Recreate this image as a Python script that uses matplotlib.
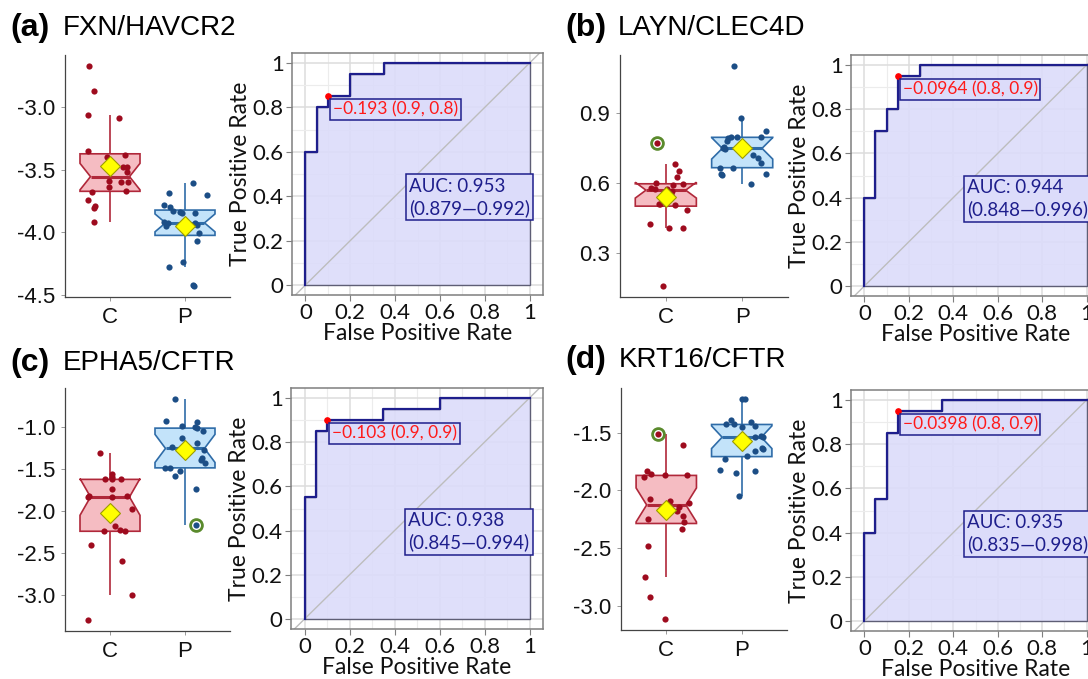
import matplotlib
matplotlib.use("Agg")
import matplotlib.pyplot as plt
import numpy as np
from matplotlib.patches import Polygon

plt.rcParams['axes.unicode_minus'] = False

W, H = 1088, 679

# ---------------- data ----------------
letters = ["(a)", "(b)", "(c)", "(d)"]
titles = ["FXN/HAVCR2", "LAYN/CLEC4D", "EPHA5/CFTR", "KRT16/CFTR"]
groups = ["C", "P"]

a_C = [-2.67, -2.87, -3.06, -3.09, -3.35, -3.40, -3.38, -3.48, -3.48, -3.52,
       -3.59, -3.60, -3.60, -3.64, -3.67, -3.68, -3.74, -3.79, -3.81, -3.92]
a_C_jit = [-0.28, -0.22, -0.29, 0.12, -0.30, -0.04, 0.20, 0.17, 0.23, 0.22,
           -0.02, 0.14, 0.24, -0.02, 0.21, -0.24, -0.30, -0.20, -0.22, -0.22]
a_P = [-3.61, -3.69, -3.70, -3.78, -3.80, -3.83, -3.84, -3.85, -3.85, -3.92,
       -3.93, -3.93, -3.94, -3.95, -4.01, -4.07, -4.24, -4.28, -4.42, -4.43]
a_P_jit = [0.11, -0.22, 0.29, -0.28, -0.20, -0.16, -0.07, -0.04, 0.13, -0.28,
           -0.23, 0.13, 0.16, -0.26, 0.19, 0.16, -0.03, -0.21, 0.10, 0.12]

b_C = [0.771, 0.683, 0.651, 0.626, 0.600, 0.596, 0.590, 0.580, 0.576, 0.573,
       0.566, 0.551, 0.511, 0.509, 0.506, 0.485, 0.424, 0.407, 0.406, 0.157]
b_C_jit = [-0.12, 0.12, 0.17, 0.14, -0.13, 0.22, 0.10, -0.20, -0.14, 0.01,
           0.08, 0.07, -0.09, -0.07, 0.12, 0.28, -0.21, 0.23, 0.04, -0.04]
b_P = [1.104, 0.880, 0.823, 0.800, 0.797, 0.797, 0.793, 0.783, 0.754, 0.752,
       0.747, 0.723, 0.709, 0.687, 0.667, 0.664, 0.640, 0.637, 0.633, 0.594]
b_P_jit = [-0.11, -0.02, 0.31, 0.24, -0.14, -0.07, -0.18, -0.20, -0.24, -0.25,
           -0.23, 0.14, 0.21, 0.24, -0.12, -0.29, 0.31, -0.28, -0.27, 0.12]

c_C = [-1.30, -1.56, -1.59, -1.62, -1.62, -1.62, -1.73, -1.82, -1.83, -1.83,
       -1.82, -1.97, -2.18, -2.24, -2.23, -2.24, -2.41, -2.59, -3.00, -3.30]
c_C_jit = [-0.14, 0.02, 0.03, -0.07, 0.02, 0.14, 0.03, -0.28, -0.29, 0.03,
           0.22, 0.29, 0.06, -0.08, 0.13, 0.20, -0.26, 0.16, 0.29, -0.29]
c_P = [-2.16, -0.66, -0.92, -0.93, -0.98, -1.00, -1.01, -1.04, -1.12, -1.19,
       -1.23, -1.27, -1.36, -1.39, -1.42, -1.48, -1.49, -1.52, -1.58, -1.74]
c_P_jit = [0.14, -0.14, -0.26, 0.16, -0.04, 0.13, 0.16, 0.24, -0.04, 0.16,
           -0.18, 0.25, 0.22, 0.21, 0.27, -0.20, -0.27, -0.07, -0.13, 0.15]

d_C = [-1.51, -1.61, -1.83, -1.86, -1.88, -1.87, -1.87, -2.07, -2.09, -2.11,
       -2.14, -2.18, -2.22, -2.27, -2.25, -2.33, -2.48, -2.75, -2.92, -3.11]
d_C_jit = [-0.11, 0.22, -0.26, -0.20, -0.29, -0.02, 0.28, -0.22, 0.05, 0.30,
           0.17, 0.14, 0.22, 0.23, -0.24, 0.21, -0.24, -0.28, -0.21, -0.02]
d_P = [-1.21, -1.21, -1.39, -1.43, -1.43, -1.41, -1.44, -1.45, -1.54, -1.53,
       -1.54, -1.63, -1.64, -1.66, -1.70, -1.73, -1.82, -1.83, -1.85, -2.05]
d_P_jit = [0.00, 0.04, -0.14, -0.21, -0.10, 0.12, 0.18, 0.01, 0.18, 0.26,
           0.28, 0.27, 0.28, 0.18, 0.07, -0.22, -0.29, 0.18, -0.07, -0.03]

# highlighted (green ring) sample: (group index, point index) or None
a_hl = None
b_hl = (0, 0)
c_hl = (1, 0)
d_hl = (0, 0)

a_yticks = [-4.5, -4.0, -3.5, -3.0]
b_yticks = [0.3, 0.6, 0.9]
c_yticks = [-3.0, -2.5, -2.0, -1.5, -1.0]
d_yticks = [-3.0, -2.5, -2.0, -1.5]

# ROC curves (FPR, TPR)
a_fpr = [0, 0, 0.05, 0.05, 0.10, 0.10, 0.20, 0.20, 0.35, 0.35, 1]
a_tpr = [0, 0.60, 0.60, 0.80, 0.80, 0.85, 0.85, 0.95, 0.95, 1.0, 1.0]
b_fpr = [0, 0, 0.05, 0.05, 0.10, 0.10, 0.15, 0.15, 0.25, 0.25, 1]
b_tpr = [0, 0.40, 0.40, 0.70, 0.70, 0.80, 0.80, 0.95, 0.95, 1.0, 1.0]
c_fpr = [0, 0, 0.05, 0.05, 0.10, 0.10, 0.35, 0.35, 0.60, 0.60, 1]
c_tpr = [0, 0.55, 0.55, 0.85, 0.85, 0.90, 0.90, 0.95, 0.95, 1.0, 1.0]
d_fpr = [0, 0, 0.05, 0.05, 0.10, 0.10, 0.15, 0.15, 0.35, 0.35, 1]
d_tpr = [0, 0.40, 0.40, 0.55, 0.55, 0.85, 0.85, 0.95, 0.95, 1.0, 1.0]

best_pt = [(0.10, 0.85), (0.15, 0.95), (0.10, 0.90), (0.15, 0.95)]
best_lbl = ["\u22120.193 (0.9, 0.8)", "\u22120.0964 (0.8, 0.9)",
            "\u22120.103 (0.9, 0.9)", "\u22120.0398 (0.8, 0.9)"]
auc_val = ["0.953", "0.944", "0.938", "0.935"]
auc_ci = [("0.879", "0.992"), ("0.848", "0.996"), ("0.845", "0.994"), ("0.835", "0.998")]

# ---------------- styles ----------------
C_FILL, C_EDGE, C_PT = "#F5BCC2", "#B0283A", "#9E0B1E"
P_FILL, P_EDGE, P_PT = "#C3E3FA", "#2F6CA8", "#1C4E86"
NAVY = "#1E1E8C"
ROC_FILL = "#DCDCFA"
BOXFONT = "Liberation Sans"
ROCFONT = "Lato"

fig = plt.figure(figsize=(W / 100, H / 100), dpi=100)


def px_axes(left, top, right, bottom):
    return fig.add_axes([left / W, 1 - bottom / H, (right - left) / W, (bottom - top) / H])


def box_panel(ax, data, jits, hl, yticks):
    fills = [(C_FILL, C_EDGE, C_PT), (P_FILL, P_EDGE, P_PT)]
    allv = np.concatenate([np.asarray(d) for d in data])
    lo, hi = allv.min(), allv.max()
    ex = 0.05 * (hi - lo)
    for i, (vals, jit) in enumerate(zip(data, jits)):
        fc, ec, pc = fills[i]
        pos = i + 1
        v = np.asarray(vals, float)
        q1, med, q3 = np.percentile(v, [25, 50, 75])
        iqr = q3 - q1
        wlo = v[v >= q1 - 1.5 * iqr].min()
        whi = v[v <= q3 + 1.5 * iqr].max()
        nd = 1.58 * iqr / np.sqrt(len(v))
        nlo, nhi = med - nd, med + nd
        hw = 0.4
        nw = hw * 0.65
        ax.plot([pos, pos], [q3, whi], color=ec, lw=1.2, zorder=1, solid_capstyle='butt')
        ax.plot([pos, pos], [wlo, q1], color=ec, lw=1.2, zorder=1, solid_capstyle='butt')
        poly = [(pos - hw, q1), (pos - hw, nlo), (pos - nw, med), (pos - hw, nhi),
                (pos - hw, q3), (pos + hw, q3), (pos + hw, nhi), (pos + nw, med),
                (pos + hw, nlo), (pos + hw, q1)]
        ax.add_patch(Polygon(poly, closed=True, facecolor=fc, edgecolor=ec, lw=1.2, zorder=2))
        ax.plot([pos - nw, pos + nw], [med, med], color=ec, lw=2.2, zorder=3,
                solid_capstyle='butt')
        ax.scatter(pos + np.asarray(jit), v, s=20, color=pc, linewidths=0, zorder=4)
        ax.plot([pos], [v.mean()], marker='D', ms=10, mfc='#FFFF00', mec='#9C9C00',
                mew=0.8, zorder=5, ls='none')
        if hl is not None and hl[0] == i:
            k = hl[1]
            ax.plot([pos + jit[k]], [v[k]], marker='o', ms=8.5, mfc='none', mec='#5A8A2C',
                    mew=2.0, zorder=6, ls='none')
    ax.set_xlim(0.4, 2.6)
    ax.set_ylim(lo - ex, hi + ex)
    ax.set_xticks([1, 2])
    ax.set_xticklabels(groups)
    ax.set_yticks(yticks)
    ax.set_yticklabels(["%.1f" % t for t in yticks])
    for s in ['top', 'right']:
        ax.spines[s].set_visible(False)
    for s in ['left', 'bottom']:
        ax.spines[s].set_color('#444444')
        ax.spines[s].set_linewidth(0.9)
    ax.tick_params(length=3, width=0.6, color='#888888', labelsize=16, pad=4,
                   labelcolor='#111111')
    for t in ax.get_xticklabels() + ax.get_yticklabels():
        t.set_fontfamily(BOXFONT)


def roc_panel(ax, fpr, tpr, best, lbl, auc, ci):
    ax.set_xlim(-0.06, 1.06)
    ax.set_ylim(-0.045, 1.045)
    ticks = [0, 0.2, 0.4, 0.6, 0.8, 1.0]
    labs = ["0", "0.2", "0.4", "0.6", "0.8", "1"]
    ax.set_xticks(ticks)
    ax.set_xticklabels(labs)
    ax.set_yticks(ticks)
    ax.set_yticklabels(labs)
    ax.set_xticks([0.1, 0.3, 0.5, 0.7, 0.9], minor=True)
    ax.set_yticks([0.1, 0.3, 0.5, 0.7, 0.9], minor=True)
    ax.grid(which='major', color='#DDDDDD', lw=1.1)
    ax.grid(which='minor', color='#ECECEC', lw=0.8)
    ax.set_axisbelow(True)
    ax.tick_params(which='minor', length=0)
    ax.tick_params(which='major', length=4, width=0.8, color='#7F7F7F', labelsize=16,
                   pad=2, labelcolor='#111111')
    for t in ax.get_xticklabels() + ax.get_yticklabels():
        t.set_fontfamily(ROCFONT)
    for s in ax.spines.values():
        s.set_color('#7F7F7F')
        s.set_linewidth(1.1)
    ax.fill(list(fpr) + [1, 0], list(tpr) + [0, 0], facecolor=ROC_FILL, edgecolor='#505068',
            lw=1.0, alpha=0.9, zorder=1)
    ax.axline((0, 0), (1, 1), color='#BDBDBD', lw=1.0, zorder=2)
    ax.plot(fpr, tpr, color=NAVY, lw=1.6, zorder=3)
    ax.plot([best[0]], [best[1]], 'o', color='#FF0000', ms=3.8, zorder=5)
    ax.text(best[0] + 0.022, best[1] - 0.06, lbl, color='#FF1A1A', fontsize=12.5,
            family=ROCFONT, ha='left', va='center', zorder=6,
            bbox=dict(boxstyle='square,pad=0.15', facecolor=ROC_FILL, edgecolor=NAVY, lw=1.1))
    ax.text(0.462, 0.395, "AUC: %s\n(%s\u2014%s)" % (auc, ci[0], ci[1]), color=NAVY,
            fontsize=13.5, family=ROCFONT, ha='left', va='center', zorder=6, linespacing=1.3,
            bbox=dict(boxstyle='square,pad=0.18', facecolor=ROC_FILL, edgecolor=NAVY, lw=1.1))
    ax.set_xlabel("False Positive Rate", fontsize=16.5, family=ROCFONT, labelpad=0, color='#111111')
    ax.set_ylabel("True Positive Rate", fontsize=16.5, family=ROCFONT, labelpad=1, color='#111111')


box_data = [(a_C, a_P), (b_C, b_P), (c_C, c_P), (d_C, d_P)]
box_jits = [(a_C_jit, a_P_jit), (b_C_jit, b_P_jit), (c_C_jit, c_P_jit), (d_C_jit, d_P_jit)]
box_hl = [a_hl, b_hl, c_hl, d_hl]
box_ticks = [a_yticks, b_yticks, c_yticks, d_yticks]
rocs = [(a_fpr, a_tpr), (b_fpr, b_tpr), (c_fpr, c_tpr), (d_fpr, d_tpr)]

box_pos = [(65, 55, 230, 297), (620, 55, 788, 297), (65, 388, 230, 631), (621, 388, 787, 630)]
roc_pos = [(292, 53, 543, 295), (851, 55, 1100, 296), (291, 388, 543, 629), (851, 390, 1100, 631)]
title_pos = [(10, 63, 28), (565, 618, 28), (10, 63, 363), (565, 619, 360)]

for k in range(4):
    axb = px_axes(*box_pos[k])
    box_panel(axb, box_data[k], box_jits[k], box_hl[k], box_ticks[k])
    axr = px_axes(*roc_pos[k])
    roc_panel(axr, rocs[k][0], rocs[k][1], best_pt[k], best_lbl[k], auc_val[k], auc_ci[k])
    lx, tx, ty = title_pos[k]
    fig.text(lx / W, 1 - ty / H, letters[k], fontsize=23, fontweight='bold',
             family=BOXFONT, va='center', ha='left')
    fig.text(tx / W, 1 - ty / H, titles[k], fontsize=20, family=BOXFONT,
             va='center', ha='left')

fig.savefig("out.png", dpi=100, facecolor='white')
